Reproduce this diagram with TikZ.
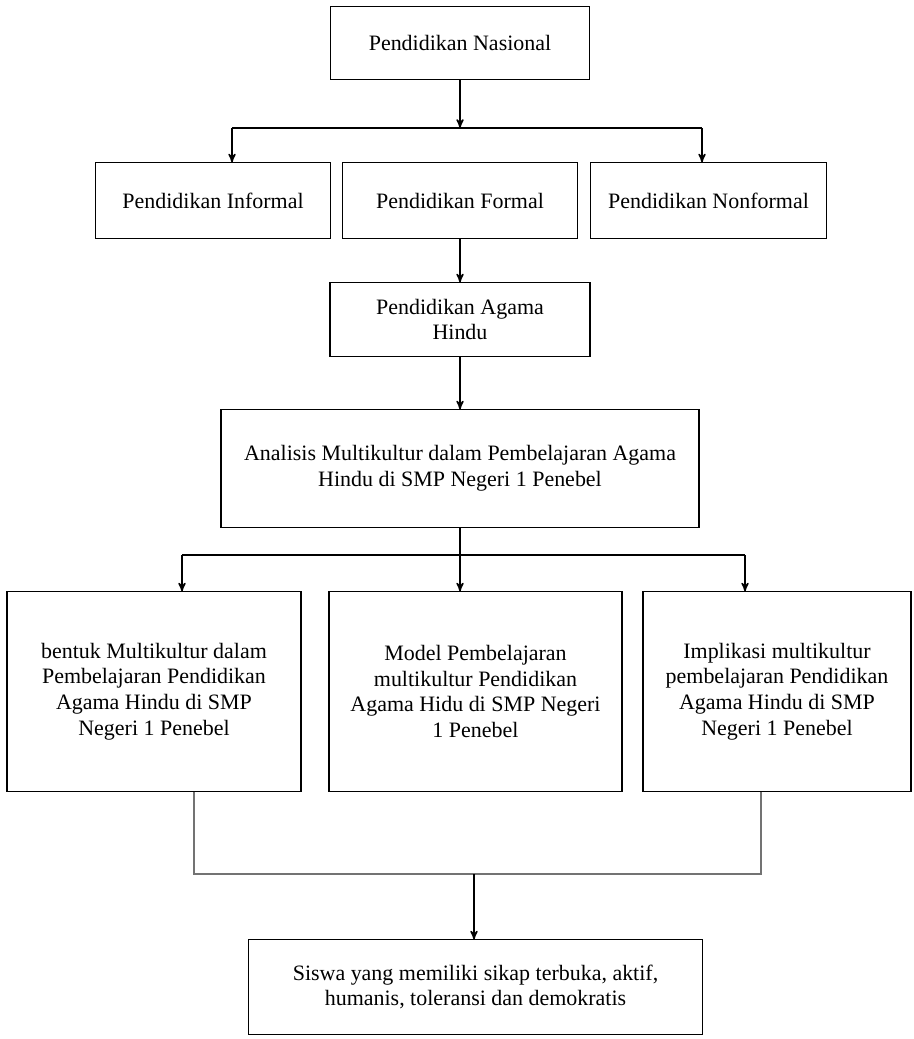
\documentclass[tikz,border=0pt]{standalone}
\usepackage{fontspec}
\setmainfont{Liberation Serif}
\usetikzlibrary{arrows,positioning}
\tikzset{
    %Define standard arrow tip
    >=stealth',
    %Define style for boxes
    box/.style={
           rectangle,
           draw=black, line width=1.1pt,
           outer sep=0pt,
           align=center,
           font=\fontsize{12.5pt}{14.6pt}\selectfont,
           minimum height=1.52cm},
    % Define arrow style
    imply/.style={
           ->,
           thick},
    link/.style={
           thick},
    gather/.style={
           semithick,
           draw=black!55}
}
\begin{document}
\begin{tikzpicture}[node distance=1cm, auto,]
    \useasboundingbox (0,0) rectangle (18.26,-20.78);
 %nodes
    \node[box, minimum width=5.18cm, minimum height=1.46cm] (nasional) at (9.2,-0.86) {Pendidikan Nasional};
    \node[box, minimum width=4.7cm, below=1.66cm of nasional] (formal) {Pendidikan Formal};
    \node[box, minimum width=4.7cm, left=0.24cm of formal] (informal) {Pendidikan Informal};
    \node[box, minimum width=4.72cm, right=0.26cm of formal] (nonformal) {Pendidikan Nonformal};
    \node[box, minimum width=5.2cm, minimum height=1.48cm, below=0.88cm of formal] (agama) {Pendidikan Agama\\Hindu};
    \node[box, minimum width=9.56cm, minimum height=2.36cm, below=1.06cm of agama] (analisis) {Analisis Multikultur dalam Pembelajaran Agama\\Hindu di SMP Negeri 1 Penebel};
    \node[box, minimum width=5.86cm, minimum height=4cm, below=1.28cm of analisis, xshift=0.31cm] (model) {Model Pembelajaran\\multikultur Pendidikan\\Agama Hidu di SMP Negeri\\1 Penebel};
    \node[box, minimum width=5.88cm, minimum height=4cm, left=0.56cm of model] (bentuk) {bentuk Multikultur dalam\\Pembelajaran Pendidikan\\Agama Hindu di SMP\\Negeri 1 Penebel};
    \node[box, minimum width=5.36cm, minimum height=4cm, right=0.42cm of model] (implikasi) {Implikasi multikultur\\pembelajaran Pendidikan\\Agama Hindu  di SMP\\Negeri 1 Penebel};
    \node[box, minimum width=9.08cm, minimum height=1.9cm, below=2.96cm of model] (siswa) {Siswa yang memiliki sikap terbuka, aktif,\\humanis, toleransi dan demokratis};
 %branch points
    \coordinate (split1) at (9.2,-2.56);
    \coordinate (left1) at (4.64,-2.56);
    \coordinate (right1) at (14.04,-2.56);
    \coordinate (split2) at (9.2,-11.1);
    \coordinate (left2) at (3.64,-11.1);
    \coordinate (right2) at (14.9,-11.1);
    \coordinate (leftend) at (3.88,-17.48);
    \coordinate (rightend) at (15.22,-17.48);
    \coordinate (merge) at (9.48,-17.48);
 %edges
    \draw[imply] (nasional) -- (split1);
    \draw[link] (left1) -- (right1);
    \draw[imply] (left1) -- (left1 |- informal.north);
    \draw[imply] (right1) -- (right1 |- nonformal.north);
    \draw[imply] (formal) -- (agama);
    \draw[imply] (agama) -- (analisis);
    \draw[link] (analisis) -- (split2);
    \draw[link] (left2) -- (right2);
    \draw[imply] (left2) -- (left2 |- bentuk.north);
    \draw[imply] (split2) -- (split2 |- model.north);
    \draw[imply] (right2) -- (right2 |- implikasi.north);
    \draw[gather] (leftend |- bentuk.south) -- (leftend) -- (rightend) -- (rightend |- implikasi.south);
    \draw[imply] (merge) -- (merge |- siswa.north);
  \end{tikzpicture}
\end{document}
